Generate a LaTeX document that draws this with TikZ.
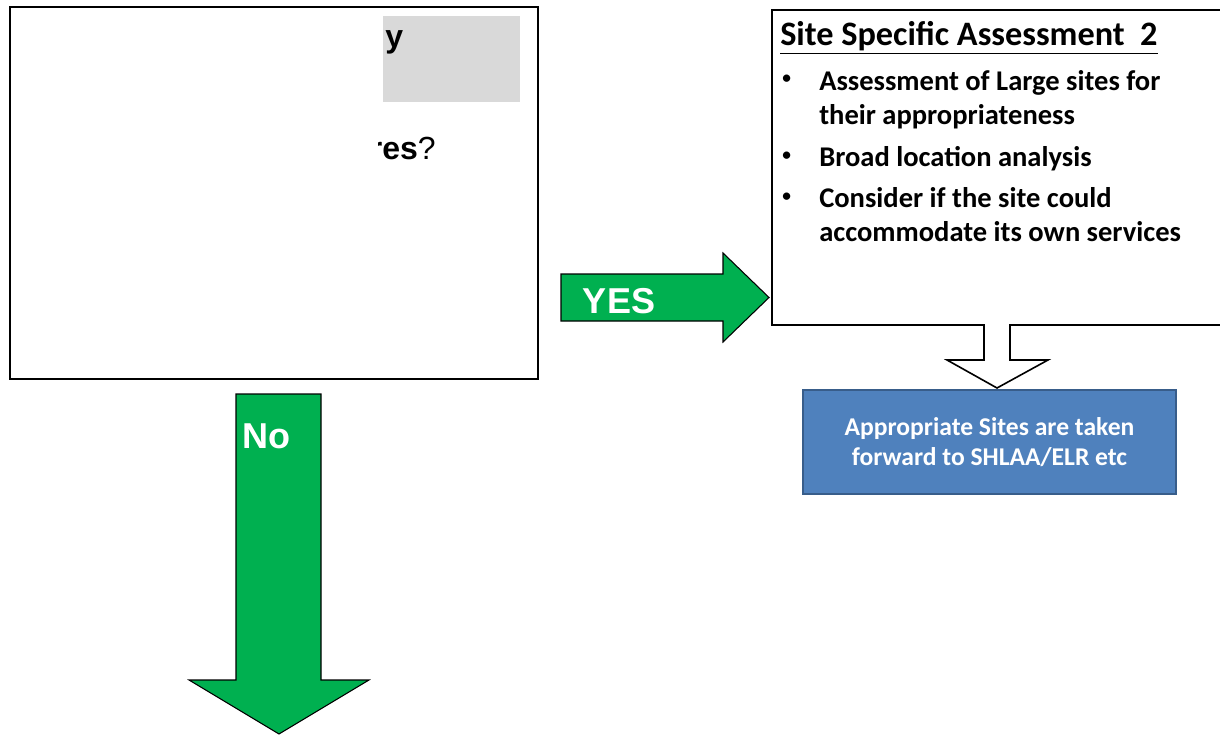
\documentclass[tikz,border=0pt]{standalone}
\usepackage{fontspec}
\setmainfont{Carlito}
\newfontfamily\arialf{Liberation Sans}
\definecolor{grn}{HTML}{00B050}
\definecolor{bfill}{HTML}{4F81BD}
\definecolor{bline}{HTML}{385D8A}
\definecolor{gry}{HTML}{D9D9D9}
\begin{document}
\begin{tikzpicture}[x=0.75pt,y=-0.75pt,
  qbox/.style={draw=black,line width=1.5pt,fill=white,inner sep=0pt,anchor=north west},
  greenarrow/.style={draw=black,line width=0.8pt,fill=grn},
  hollowarrow/.style={draw=black,line width=1.2pt,fill=white},
  txt/.style={inner sep=0pt,anchor=base west},
  bulletfont/.style={font=\bfseries\fontsize{21.4}{26}\selectfont},
  bulletdot/.style={inner sep=0pt,anchor=base west,font=\bfseries\fontsize{13}{15}\selectfont},
  arrowlabel/.style={inner sep=0pt,text=white,font=\arialf\bfseries\fontsize{27}{32}\selectfont}]
\useasboundingbox (0,0) rectangle (1220,735);
\clip (0,0) rectangle (1220,735);

% left question box
\node[qbox,minimum width=396pt,minimum height=279pt] (q) at (9,6) {};
\node[fill=gry,inner sep=0pt,anchor=north west,minimum width=102.75pt,minimum height=64.5pt] (g) at (383,16) {};
\node[txt,font=\arialf\bfseries\fontsize{24}{28}\selectfont] (ty) at (385,48) {y};
\begin{scope}
  \clip (378,120) rectangle (540,180);
  \node[inner sep=0pt,anchor=base east,font=\arialf\fontsize{24}{28}\selectfont] (tres) at (436,159) {\textbf{res}?};
\end{scope}

% right assessment box
\node[qbox,line width=1.2pt,minimum width=351.75pt,minimum height=236.25pt] (ssa) at (771,9) {};
\node[txt,font=\bfseries\fontsize{25.7}{30}\selectfont] (title) at (780,46) {\underline{Site Specific Assessment\ \ 2}};
\node[bulletdot] (b1) at (782,84) {•};
\node[txt,bulletfont] (l1) at (819,90) {Assessment of Large sites for};
\node[txt,bulletfont] (l2) at (819,124) {their appropriateness};
\node[bulletdot] (b2) at (782,160) {•};
\node[txt,bulletfont] (l3) at (819,166) {Broad location analysis};
\node[bulletdot] (b3) at (782,201) {•};
\node[txt,bulletfont] (l4) at (819,207) {Consider if the site could};
\node[txt,bulletfont] (l5) at (819,241) {accommodate its own services};

% blue result box
\node[fill=bfill,draw=bline,line width=1.5pt,anchor=north west,minimum width=279.75pt,minimum height=78pt,
      text=white,align=center,font=\bfseries\fontsize{19.2}{22.5}\selectfont] (ap) at (802,389)
      {Appropriate Sites are taken\\forward to SHLAA/ELR etc};

% hollow arrow from assessment box to result box
\coordinate (hs) at (997,324);
\fill[white] (985,321) rectangle (1009,327);
\draw[hollowarrow] (984,324) -- (984,360) -- (947,360) -- (997,388) -- (1048,360) -- (1010,360) -- (1010,324);

% YES arrow
\draw[greenarrow] (561,274) -- (723,274) -- (723,253) -- (769,297.5) -- (723,342) -- (723,321) -- (561,321) -- cycle;
\node[arrowlabel] (yes) at (619,301) {YES};

% No arrow
\draw[greenarrow] (236,394) -- (321,394) -- (321,680) -- (369,680) -- (279,734) -- (189,680) -- (236,680) -- cycle;
\node[arrowlabel] (no) at (266,436.5) {No};
\end{tikzpicture}
\end{document}
